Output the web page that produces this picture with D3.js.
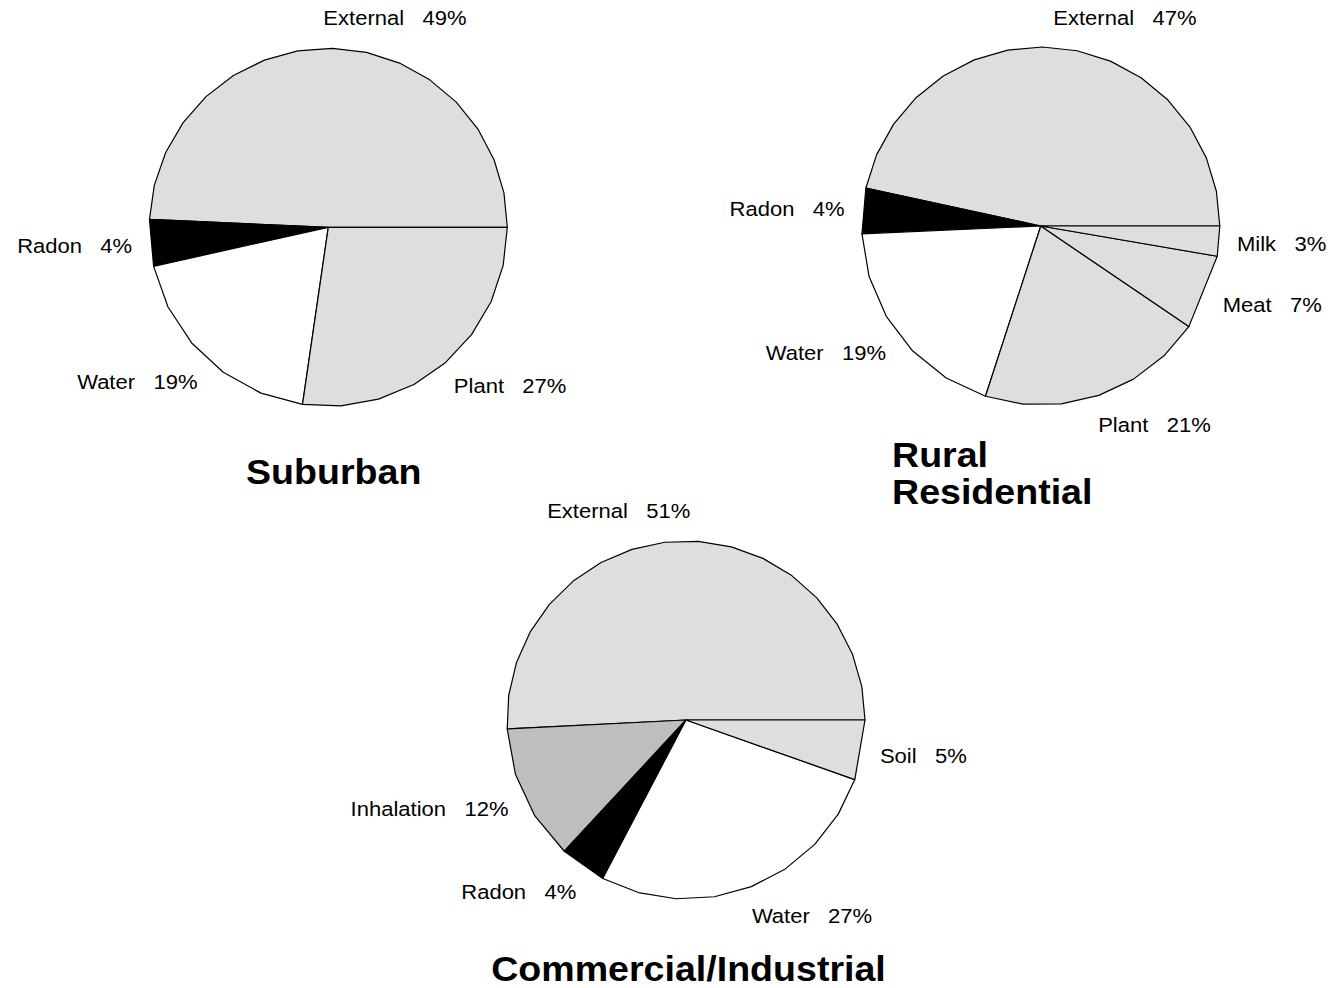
<!DOCTYPE html>
<html>
<head>
<meta charset="utf-8">
<script src="https://cdn.jsdelivr.net/npm/d3@7"></script>
<style>
    body { margin: 0; background: #fff; }
    svg text { font-family: "Liberation Sans", Arial, Helvetica, sans-serif; white-space: pre; }
</style>
</head>
<body>
<svg width="1336" height="988"></svg>
<script>
// dose share by pathway (percent of total)
const suburban_names = ["External", "Radon", "Water", "Plant"];
const suburban_values = [49.3, 4.2, 19.2, 27.3];
const suburban_fills = ["light", "black", "white", "light"];

const rural_names = ["External", "Radon", "Water", "Plant", "Meat", "Milk"];
const rural_values = [46.6, 4.1, 19.3, 20.5, 6.8, 2.7];
const rural_fills = ["light", "black", "white", "light", "light", "light"];

const commercial_names = ["External", "Inhalation", "Radon", "Water", "Soil"];
const commercial_values = [50.8, 12.3, 4.2, 27.3, 5.4];
const commercial_fills = ["light", "mid", "black", "white", "light"];

const suburban_title = ["Suburban"];
const rural_title = ["Rural", "Residential"];
const commercial_title = ["Commercial/Industrial"];

const svg = d3.select("svg");

const radius = 179,
    edges = 36,          // polygon resolution of the pie outline
    stretch = 1.074,     // text in the figure is slightly wide
    label_size = 20.5,
    title_size = 35;

const fill = d3.scaleOrdinal()
    .domain(["light", "mid", "black", "white"])
    .range(["#dedede", "#bebebe", "#000000", "#ffffff"]);

// start at 3 o'clock and go counter-clockwise, like the original
const pie = d3.pie()
    .sort(null)
    .value(function (d) {
        return d.value;
    })
    .startAngle(Math.PI / 2)
    .endAngle(Math.PI / 2 - 2 * Math.PI);

const line = d3.line().curve(d3.curveLinearClosed);

const panels = [
    {names: suburban_names, values: suburban_values, fills: suburban_fills, title: suburban_title,
        cx: 328.3, cy: 227.3, tx: 333.7, ty: 484.3, anchor: "middle"},
    {names: rural_names, values: rural_values, fills: rural_fills, title: rural_title,
        cx: 1040.8, cy: 226, tx: 892, ty: 466.7, anchor: "start"},
    {names: commercial_names, values: commercial_values, fills: commercial_fills, title: commercial_title,
        cx: 686, cy: 720, tx: 688.5, ty: 981, anchor: "middle"}
];

panels.forEach(function (p) {
    const rows = p.names.map(function (name, i) {
        return {name: name, value: p.values[i], fill: p.fills[i]};
    });
    const arcs = pie(rows);

    const g = svg.append("g");

    g.selectAll("path")
        .data(arcs)
        .enter().append("path")
        .attr("d", function (d) {
            return line(slice_points(d, p.cx, p.cy));
        })
        .attr("fill", function (d) {
            return fill(d.data.fill);
        })
        .attr("stroke", "#000")
        .attr("stroke-width", 1.2)
        .attr("stroke-linejoin", "round");

    g.selectAll("text.label")
        .data(arcs)
        .enter().append("text")
        .classed("label", true)
        .attr("transform", function (d) {
            const pos = label_pos(d, p.cx, p.cy);
            return "translate(" + pos.x + "," + pos.y + ") scale(" + stretch + ",1)";
        })
        .attr("text-anchor", function (d) {
            return Math.sin((d.startAngle + d.endAngle) / 2) >= 0 ? "start" : "end";
        })
        .attr("font-size", label_size)
        .attr("fill", "#000")
        .text(function (d) {
            return d.data.name + "   " + Math.round(d.data.value) + "%";
        });

    g.selectAll("text.title")
        .data(p.title)
        .enter().append("text")
        .classed("title", true)
        .attr("transform", function (d, i) {
            return "translate(" + p.tx + "," + (p.ty + i * 37.5) + ") scale(" + stretch + ",1)";
        })
        .attr("text-anchor", p.anchor)
        .attr("font-size", title_size)
        .attr("font-weight", "bold")
        .attr("fill", "#000")
        .text(function (d) {
            return d;
        });
});

function slice_points(d, cx, cy) {
    const span = Math.abs(d.endAngle - d.startAngle);
    const n = Math.max(2, Math.floor(edges * span / (2 * Math.PI)));
    const t = d3.scaleLinear().domain([0, n - 1]).range([d.startAngle, d.endAngle]);
    const pts = [[cx, cy]];
    d3.range(n).forEach(function (i) {
        const a = t(i);
        pts.push([cx + radius * Math.sin(a), cy - radius * Math.cos(a)]);
    });
    return pts;
}

// labels sit at 1.1 r horizontally, pushed a bit further out vertically
function label_pos(d, cx, cy) {
    const mid = (d.startAngle + d.endAngle) / 2;
    const c = Math.sin(mid), s = Math.cos(mid);
    const nudge = 9.5 * (1 - Math.abs(c));
    let x = cx + 1.1 * radius * c;
    x += c >= 0 ? -nudge : nudge;
    const mid_y = cy - (1.1 * radius + 13) * s;
    return {x: x, y: mid_y + 0.358 * label_size};
}
</script>
</body>
</html>
